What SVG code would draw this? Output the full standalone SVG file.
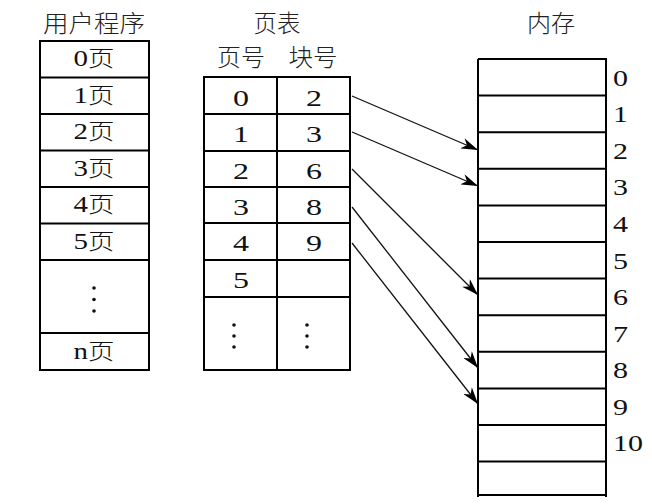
<svg xmlns="http://www.w3.org/2000/svg" width="652" height="504" viewBox="0 0 652 504">
<style>
.box{fill:#fff;stroke:#000;stroke-width:2}
.ln{stroke:#000;stroke-width:2;fill:none}
.t{font-family:'Liberation Serif','Times New Roman','DejaVu Serif',serif;font-size:24px;fill:#111;text-anchor:middle}
.c{font-family:'Noto Sans CJK SC',sans-serif;font-size:22px;font-weight:300}
.h{font-family:'Noto Sans CJK SC',sans-serif;font-size:24px;fill:#222;text-anchor:middle;font-weight:300}
.m{font-family:'Liberation Serif','Times New Roman','DejaVu Serif',serif;font-size:24px;fill:#111}
.arr{stroke:#111;stroke-width:1.3;fill:none;marker-end:url(#ah)}
.dot{fill:#111}
</style>
<defs>
<marker id="ah" markerWidth="18" markerHeight="11" refX="17" refY="5.5" orient="auto" markerUnits="userSpaceOnUse">
<path d="M0,0 L17,5.5 L0,11 L5,5.5 z" fill="#000"/>
</marker>
</defs>
<rect width="652" height="504" fill="#fff"/>

<g id="user-program">
<text class="h" x="94" y="32" textLength="102" lengthAdjust="spacingAndGlyphs">用户程序</text>
<rect class="box" x="40" y="41" width="109" height="329"/>
<path class="ln" d="M40,77.5H149M40,114H149M40,150.5H149M40,187H149M40,223.5H149M40,260H149M40,333H149"/>
<text class="t" x="94" y="66" textLength="41" lengthAdjust="spacingAndGlyphs">0<tspan class="c">页</tspan></text>
<text class="t" x="94" y="103" textLength="41" lengthAdjust="spacingAndGlyphs">1<tspan class="c">页</tspan></text>
<text class="t" x="94" y="139" textLength="41" lengthAdjust="spacingAndGlyphs">2<tspan class="c">页</tspan></text>
<text class="t" x="94" y="176" textLength="41" lengthAdjust="spacingAndGlyphs">3<tspan class="c">页</tspan></text>
<text class="t" x="94" y="212" textLength="41" lengthAdjust="spacingAndGlyphs">4<tspan class="c">页</tspan></text>
<text class="t" x="94" y="249" textLength="41" lengthAdjust="spacingAndGlyphs">5<tspan class="c">页</tspan></text>
<circle class="dot" cx="94" cy="288" r="1.8"/>
<circle class="dot" cx="94" cy="299.5" r="1.8"/>
<circle class="dot" cx="94" cy="311" r="1.8"/>
<text class="t" x="94" y="359" textLength="41" lengthAdjust="spacingAndGlyphs">n<tspan class="c">页</tspan></text>
</g>

<g id="page-table">
<text class="h" x="277" y="32" textLength="47" lengthAdjust="spacingAndGlyphs">页表</text>
<text class="h" x="241" y="66" textLength="48" lengthAdjust="spacingAndGlyphs">页号</text>
<text class="h" x="313" y="66" textLength="49" lengthAdjust="spacingAndGlyphs">块号</text>
<rect class="box" x="204" y="77" width="146" height="293"/>
<path class="ln" d="M277,77V370M204,114H350M204,151H350M204,187H350M204,223H350M204,260H350M204,297H350"/>
<text class="t" x="241" y="106" textLength="16" lengthAdjust="spacingAndGlyphs">0</text><text class="t" x="314" y="106" textLength="16" lengthAdjust="spacingAndGlyphs">2</text>
<text class="t" x="241" y="142" textLength="16" lengthAdjust="spacingAndGlyphs">1</text><text class="t" x="314" y="142" textLength="16" lengthAdjust="spacingAndGlyphs">3</text>
<text class="t" x="241" y="179" textLength="16" lengthAdjust="spacingAndGlyphs">2</text><text class="t" x="314" y="179" textLength="16" lengthAdjust="spacingAndGlyphs">6</text>
<text class="t" x="241" y="215" textLength="16" lengthAdjust="spacingAndGlyphs">3</text><text class="t" x="314" y="215" textLength="16" lengthAdjust="spacingAndGlyphs">8</text>
<text class="t" x="241" y="251" textLength="16" lengthAdjust="spacingAndGlyphs">4</text><text class="t" x="314" y="251" textLength="16" lengthAdjust="spacingAndGlyphs">9</text>
<text class="t" x="241" y="288" textLength="16" lengthAdjust="spacingAndGlyphs">5</text>
<circle class="dot" cx="234" cy="325" r="1.8"/>
<circle class="dot" cx="234" cy="336" r="1.8"/>
<circle class="dot" cx="234" cy="347" r="1.8"/>
<circle class="dot" cx="307" cy="325" r="1.8"/>
<circle class="dot" cx="307" cy="336" r="1.8"/>
<circle class="dot" cx="307" cy="347" r="1.8"/>
</g>

<g id="memory">
<text class="h" x="551" y="32" textLength="48" lengthAdjust="spacingAndGlyphs">内存</text>
<path class="ln" d="M478,59H606V497M478,59V497M478,95.6H606M478,132.2H606M478,168.8H606M478,205.4H606M478,242H606M478,278.6H606M478,315.2H606M478,351.8H606M478,388.4H606M478,425H606M478,461.6H606M478,495H606"/>
<text class="m" x="613" y="86" textLength="15" lengthAdjust="spacingAndGlyphs">0</text>
<text class="m" x="613" y="122" textLength="15" lengthAdjust="spacingAndGlyphs">1</text>
<text class="m" x="613" y="159" textLength="15" lengthAdjust="spacingAndGlyphs">2</text>
<text class="m" x="613" y="195" textLength="15" lengthAdjust="spacingAndGlyphs">3</text>
<text class="m" x="613" y="232" textLength="15" lengthAdjust="spacingAndGlyphs">4</text>
<text class="m" x="613" y="269" textLength="15" lengthAdjust="spacingAndGlyphs">5</text>
<text class="m" x="613" y="305" textLength="15" lengthAdjust="spacingAndGlyphs">6</text>
<text class="m" x="613" y="342" textLength="15" lengthAdjust="spacingAndGlyphs">7</text>
<text class="m" x="613" y="378" textLength="15" lengthAdjust="spacingAndGlyphs">8</text>
<text class="m" x="613" y="415" textLength="15" lengthAdjust="spacingAndGlyphs">9</text>
<text class="m" x="613" y="451" textLength="30" lengthAdjust="spacingAndGlyphs">10</text>
</g>

<g id="connectors">
<path class="arr" d="M352,96L478,150"/>
<path class="arr" d="M352,132L478,186"/>
<path class="arr" d="M352,169L478,295"/>
<path class="arr" d="M352,207L478,368"/>
<path class="arr" d="M352,243L478,404"/>
</g>
</svg>
